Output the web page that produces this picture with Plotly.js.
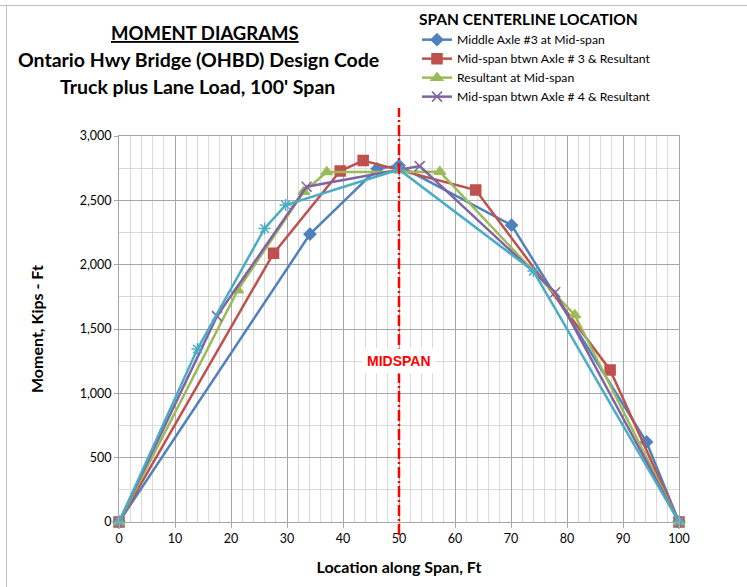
<!DOCTYPE html>
<html>
<head>
<meta charset="utf-8">
<script src="https://cdn.plot.ly/plotly-3.0.1.min.js"></script>
<style>
  html, body { margin: 0; padding: 0; background: #ffffff; }
  #chart { width: 747px; height: 587px; }
</style>
</head>
<body>
<div id="chart"></div>
<script>
// ---- Data ----
const seriesNames = [
  "Middle Axle #3 at Mid-span",
  "Mid-span btwn Axle # 3 & Resultant",
  "Resultant at Mid-span",
  "Mid-span btwn Axle # 4 & Resultant",
  "Extra case"
];

const axle3MidX = [0, 34.1, 46.1, 50.0, 70.1, 94.2, 100];
const axle3MidY = [0, 2237, 2745, 2770, 2307, 622, 0];

const axle3ResX = [0, 27.6, 39.5, 43.6, 63.7, 87.7, 100];
const axle3ResY = [0, 2088, 2728, 2809, 2580, 1182, 0];

const resMidX = [0, 21.2, 33.0, 37.1, 57.3, 81.4, 100];
const resMidY = [0, 1802, 2567, 2720, 2722, 1608, 0];

const axle4ResX = [0, 17.5, 33.5, 53.7, 77.9, 100];
const axle4ResY = [0, 1600, 2606, 2766, 1786, 0];

const extraX = [0, 14.0, 26.0, 29.75, 50.0, 74.0, 100];
const extraY = [0, 1344, 2281, 2463, 2740, 1950, 0];

const midspanX = 50;
const xTickVals = [0, 10, 20, 30, 40, 50, 60, 70, 80, 90, 100];
const yTickVals = [0, 500, 1000, 1500, 2000, 2500, 3000];
const yTickText = ["0", "500", "1,000", "1,500", "2,000", "2,500", "3,000"];

const titleLines = [
  "MOMENT DIAGRAMS",
  "Ontario Hwy Bridge (OHBD) Design Code",
  "Truck plus Lane Load, 100' Span"
];

// ---- Styling ----
const FONT = "Lato, 'Open Sans', sans-serif";
const colors = ["#4F81BD", "#C0504D", "#9BBB59", "#8064A2", "#4BACC6"];

function tr(x, y, i, symbol, size, extra) {
  return Object.assign({
    type: "scatter", mode: "lines+markers",
    x: x, y: y, name: seriesNames[i],
    line: { color: colors[i], width: 2.5 },
    marker: { symbol: symbol, size: size, color: colors[i],
              line: { color: colors[i], width: 1.5 } },
    cliponaxis: false
  }, extra || {});
}

const traces = [
  tr(axle3MidX, axle3MidY, 0, "diamond", 9),
  tr(axle3ResX, axle3ResY, 1, "square", 10),
  tr(resMidX, resMidY, 2, "triangle-up", 10),
  tr(axle4ResX, axle4ResY, 3, "x-thin-open", 10),
  tr(extraX, extraY, 4, "asterisk-open", 10, { showlegend: false })
];

// paper coordinate helpers (plot area: x 119..679 px, y 136..522 px)
const L = 119, R = 679, T = 136, B = 522;
const px = v => (v - L) / (R - L);
const py = v => (B - v) / (B - T);

const layout = {
  width: 747, height: 587,
  margin: { l: L, r: 747 - R, t: T, b: 587 - B, autoexpand: false },
  paper_bgcolor: "#ffffff", plot_bgcolor: "#ffffff",
  font: { family: FONT, size: 12, color: "#000000" },
  showlegend: true,
  legend: {
    x: px(417), y: py(5), xanchor: "left", yanchor: "top",
    bgcolor: "rgba(0,0,0,0)",
    font: { family: FONT, size: 12.2, color: "#000000" },
    title: { text: "<b>SPAN CENTERLINE LOCATION</b>", font: { family: FONT, size: 15.5, color: "#000000" } },
    itemwidth: 30, tracegroupgap: 0
  },
  xaxis: {
    range: [0, 100], tickvals: xTickVals, ticks: "outside", ticklen: 5,
    tickcolor: "#A6A6A6", showline: true, linecolor: "#A6A6A6", linewidth: 1,
    showgrid: true, gridcolor: "#A6A6A6", gridwidth: 1, zeroline: false,
    minor: { dtick: 2, showgrid: true, gridcolor: "#D9D9D9", gridwidth: 1 },
    tickfont: { family: FONT, size: 12.5, color: "#000000" },
    title: { text: "<b>Location along Span, Ft</b>", font: { family: FONT, size: 16, color: "#000000" }, standoff: 16 },
    mirror: true
  },
  yaxis: {
    range: [0, 3000], tickvals: yTickVals, ticktext: yTickText, ticks: "outside", ticklen: 4,
    tickcolor: "#A6A6A6", showline: true, linecolor: "#A6A6A6", linewidth: 1,
    showgrid: true, gridcolor: "#A6A6A6", gridwidth: 1, zeroline: false,
    minor: { dtick: 250, showgrid: true, gridcolor: "#D9D9D9", gridwidth: 1 },
    tickfont: { family: FONT, size: 12.5, color: "#000000" },
    title: { text: "<b>Moment, Kips - Ft</b>", font: { family: FONT, size: 16, color: "#000000" }, standoff: 32 },
    mirror: true
  },
  shapes: [
    { type: "line", xref: "x", yref: "paper", x0: midspanX, x1: midspanX, y0: py(535), y1: py(108),
      line: { color: "#FF0000", width: 2.5, dash: "11px,3px,2px,3px" } },
    { type: "line", xref: "paper", yref: "paper", x0: px(0), x1: px(747), y0: py(5.5), y1: py(5.5),
      line: { color: "#BFBFBF", width: 1 } },
    { type: "line", xref: "paper", yref: "paper", x0: px(6.5), x1: px(6.5), y0: py(587), y1: py(5.5),
      line: { color: "#BFBFBF", width: 1 } }
  ],
  annotations: [
    { xref: "paper", yref: "paper", x: px(205), y: py(33), xanchor: "center", yanchor: "middle",
      showarrow: false, text: "<b><u>" + titleLines[0] + "</u></b>",
      font: { family: FONT, size: 18.5, color: "#000000" } },
    { xref: "paper", yref: "paper", x: px(198), y: py(60), xanchor: "center", yanchor: "middle",
      showarrow: false, text: "<b>" + titleLines[1] + "</b>",
      font: { family: FONT, size: 19.5, color: "#000000" } },
    { xref: "paper", yref: "paper", x: px(197), y: py(86), xanchor: "center", yanchor: "middle",
      showarrow: false, text: "<b>" + titleLines[2] + "</b>",
      font: { family: FONT, size: 19.5, color: "#000000" } },
    { xref: "x", yref: "paper", x: midspanX, y: py(361), xanchor: "center", yanchor: "middle",
      showarrow: false, text: "<b>MIDSPAN</b>", bgcolor: "#ffffff", borderpad: 4,
      font: { family: "Liberation Sans, Arial, sans-serif", size: 14, color: "#FF0000" } }
  ]
};

Plotly.newPlot("chart", traces, layout, { displayModeBar: false, staticPlot: true });
</script>
</body>
</html>
